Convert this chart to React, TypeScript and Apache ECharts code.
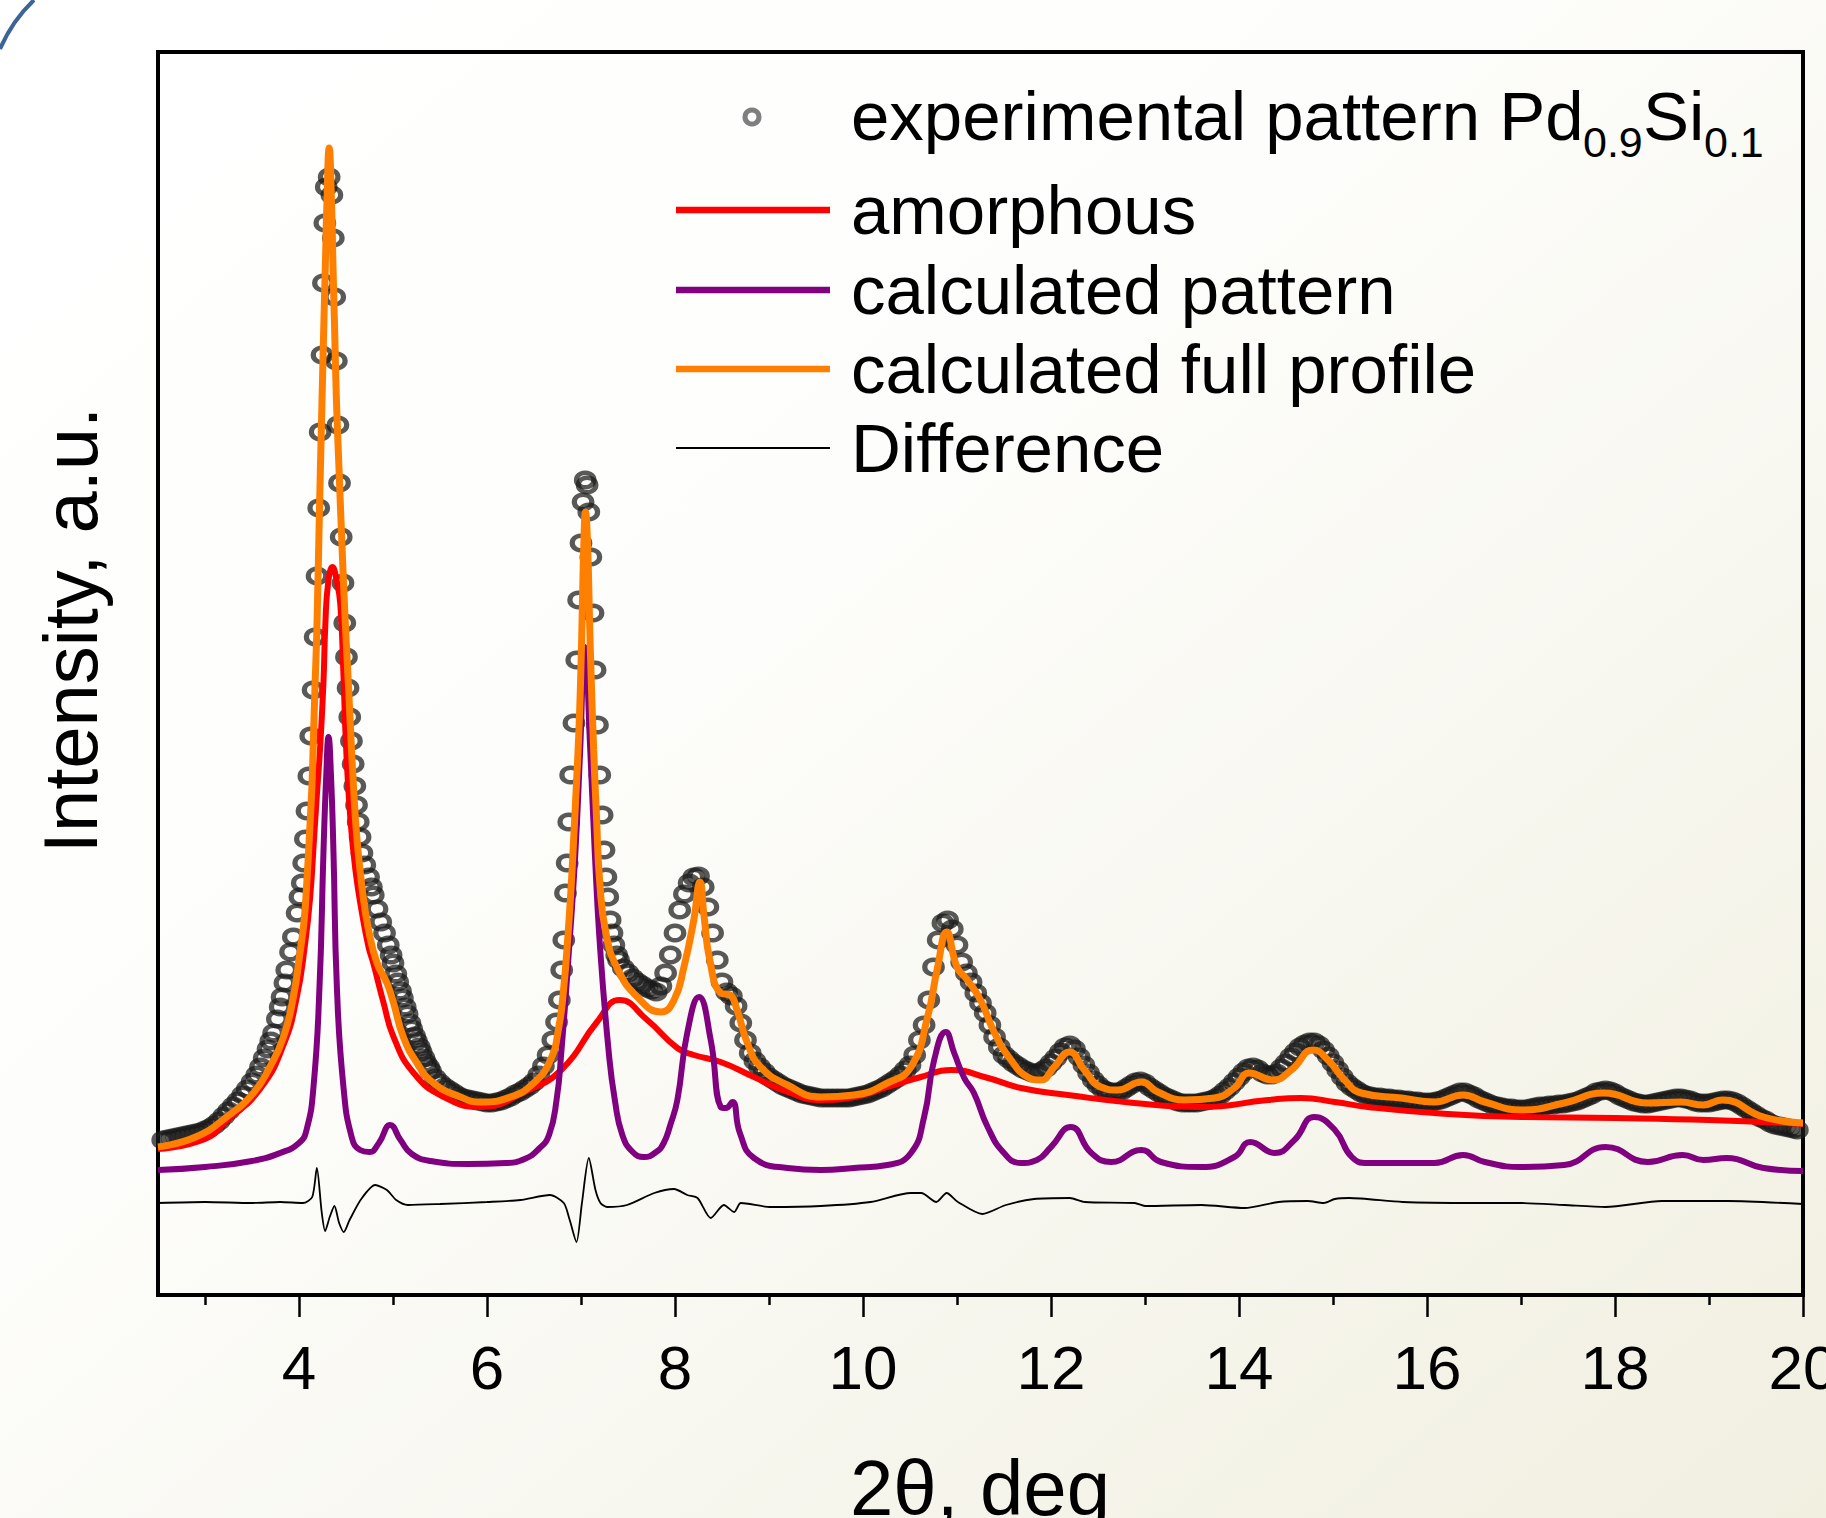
import React, { useEffect, useRef } from "react";
import * as echarts from "echarts";

const FONT = '"Liberation Sans", Arial, Helvetica, sans-serif';

// x axis ticks (2θ, deg)
const xMajorTicks = [4, 6, 8, 10, 12, 14, 16, 18, 20];
const xMinorTicks = [3, 5, 7, 9, 11, 13, 15, 17, 19];

const seriesNames = [
  "experimental pattern Pd0.9Si0.1",
  "amorphous",
  "calculated pattern",
  "calculated full profile",
  "Difference",
];

// experimental pattern (circles), [2θ, intensity a.u.]
const experimental: number[][] = [
  [2.55,155],[2.6,156],[2.65,157],[2.7,158],[2.75,159],[2.8,160],[2.85,161],[2.9,162],[2.95,163],[3.0,165],
  [3.05,167],[3.1,170],[3.15,174],[3.2,179],[3.25,184],[3.3,189],[3.35,194],[3.4,200],[3.45,206],[3.5,213],
  [3.55,220],[3.59,228],[3.63,237],[3.67,246],[3.7,254],[3.73,262],[3.77,276],[3.8,288],[3.82,298],[3.85,312],
  [3.87,325],[3.91,343],[3.94,358],[3.98,382],[4.01,398],[4.035,412],[4.05,432],[4.068,456],[4.085,484],[4.105,519],
  [4.125,559],[4.15,605],[4.172,658],[4.192,719],[4.21,787],[4.225,863],[4.245,940],[4.26,1012],[4.275,1072],[4.29,1108],
  [4.321,1118],[4.35,1100],[4.365,1057],[4.38,998],[4.397,934],[4.414,870],[4.431,812],[4.449,758],[4.468,712],[4.487,672],
  [4.505,638],[4.522,607],[4.54,578],[4.558,554],[4.576,531],[4.594,509],[4.612,490],[4.63,473],[4.65,458],[4.67,442],
  [4.7,430],[4.74,418],[4.77,408],[4.79,400],[4.83,386],[4.87,373],[4.91,362],[4.95,350],[4.98,340],[5.0,332],
  [5.03,321],[5.05,313],[5.08,304],[5.1,297],[5.13,288],[5.15,281],[5.18,272],[5.2,266],[5.23,259],[5.25,254],
  [5.28,248],[5.3,243],[5.33,237],[5.35,232],[5.38,228],[5.4,224],[5.45,217],[5.5,212],[5.55,208],[5.6,205],
  [5.65,202],[5.7,199],[5.75,197],[5.8,196],[5.85,195],[5.9,194],[5.95,193],[6.0,192],[6.05,192],[6.1,193],
  [6.15,194],[6.2,196],[6.25,198],[6.3,201],[6.35,203],[6.4,206],[6.45,209],[6.5,213],[6.55,220],[6.6,229],
  [6.65,240],[6.7,255],[6.74,273],[6.77,295],[6.795,325],[6.817,355],[6.835,402],[6.853,432],[6.87,473],[6.89,520],
  [6.925,572],[6.955,635],[6.975,695],[7.0,752],[7.022,793],[7.045,815],[7.065,810],[7.083,783],[7.105,738],[7.128,682],
  [7.15,625],[7.175,570],[7.2,520],[7.225,480],[7.245,445],[7.265,418],[7.285,398],[7.31,375],[7.33,362],[7.35,350],
  [7.38,340],[7.4,335],[7.45,327],[7.5,322],[7.55,317],[7.6,313],[7.65,310],[7.7,307],[7.75,305],[7.8,303],
  [7.85,309],[7.9,322],[7.95,340],[8.0,362],[8.05,385],[8.1,401],[8.15,412],[8.2,418],[8.25,419],[8.3,408],
  [8.35,388],[8.4,362],[8.45,335],[8.5,313],[8.55,303],[8.6,299],[8.65,289],[8.7,272],[8.75,255],[8.8,242],
  [8.85,234],[8.9,228],[8.95,223],[9.0,218],[9.05,215],[9.1,212],[9.15,209],[9.2,207],[9.25,205],[9.3,203],
  [9.35,201],[9.4,200],[9.45,199],[9.5,198],[9.55,197],[9.6,197],[9.65,197],[9.7,197],[9.75,197],[9.8,197],
  [9.85,197],[9.9,198],[9.95,199],[10.0,200],[10.05,201],[10.1,203],[10.15,205],[10.2,207],[10.25,210],[10.3,213],
  [10.35,216],[10.4,220],[10.45,225],[10.5,230],[10.55,240],[10.6,255],[10.65,270],[10.7,295],[10.75,328],[10.8,355],
  [10.85,372],[10.9,375],[10.95,366],[11.0,350],[11.05,333],[11.1,322],[11.15,313],[11.2,302],[11.25,292],[11.3,282],
  [11.35,270],[11.4,258],[11.45,248],[11.5,240],[11.55,236],[11.6,232],[11.65,229],[11.7,226],[11.75,224],[11.8,222],
  [11.85,222],[11.9,224],[11.95,227],[12.0,232],[12.05,237],[12.1,243],[12.15,248],[12.2,250],[12.25,246],[12.3,238],
  [12.35,230],[12.4,222],[12.45,215],[12.5,210],[12.55,206],[12.6,204],[12.65,203],[12.7,203],[12.75,204],[12.8,207],
  [12.85,210],[12.9,213],[12.95,214],[13.0,212],[13.05,208],[13.1,205],[13.15,202],[13.2,199],[13.25,197],[13.3,195],
  [13.35,193],[13.4,192],[13.45,192],[13.5,192],[13.55,192],[13.6,193],[13.65,194],[13.7,195],[13.75,197],[13.8,200],
  [13.85,204],[13.9,208],[13.95,213],[14.0,218],[14.05,223],[14.1,227],[14.15,228],[14.2,226],[14.25,222],[14.3,220],
  [14.35,220],[14.4,222],[14.45,227],[14.5,232],[14.55,238],[14.6,243],[14.65,248],[14.7,251],[14.75,253],[14.8,253],
  [14.85,250],[14.9,245],[14.95,239],[15.0,232],[15.05,225],[15.1,218],[15.15,212],[15.2,208],[15.25,205],[15.3,202],
  [15.35,200],[15.4,199],[15.45,198],[15.5,198],[15.55,197],[15.6,197],[15.65,196],[15.7,196],[15.75,195],[15.8,195],
  [15.85,194],[15.9,194],[15.95,193],[16.0,193],[16.05,193],[16.1,194],[16.15,195],[16.2,197],[16.25,199],[16.3,201],
  [16.35,203],[16.4,203],[16.45,201],[16.5,199],[16.55,196],[16.6,194],[16.65,192],[16.7,190],[16.75,189],[16.8,188],
  [16.85,187],[16.9,187],[16.95,186],[17.0,186],[17.05,186],[17.1,187],[17.15,188],[17.2,189],[17.25,189],[17.3,190],
  [17.35,190],[17.4,191],[17.45,191],[17.5,192],[17.55,193],[17.6,194],[17.65,196],[17.7,198],[17.75,200],[17.8,203],
  [17.85,204],[17.9,205],[17.95,204],[18.0,202],[18.05,199],[18.1,197],[18.15,195],[18.2,193],[18.25,192],[18.3,191],
  [18.35,191],[18.4,192],[18.45,193],[18.5,194],[18.55,195],[18.6,196],[18.65,197],[18.7,197],[18.75,196],[18.8,195],
  [18.85,193],[18.9,192],[18.95,192],[19.0,192],[19.05,193],[19.1,194],[19.15,195],[19.2,195],[19.25,194],[19.3,192],
  [19.35,189],[19.4,186],[19.45,183],[19.5,180],[19.55,177],[19.6,175],[19.65,172],[19.7,170],[19.75,169],[19.8,168],
  [19.85,167],[19.9,166],[19.94,165],
];

// amorphous contribution (red)
const amorphous: number[][] = [
  [2.5,146],[3.0,156],[3.23,174],[3.586,206],[3.835,250],[3.977,298],[4.066,352],[4.119,398],[4.161,458],[4.19,500],
  [4.225,548],[4.26,612],[4.28,670],[4.31,712],[4.356,728],[4.4,715],[4.44,690],[4.473,620],[4.5,550],[4.545,478],
  [4.6,425],[4.67,382],[4.74,348],[4.79,332],[4.9,292],[5.006,258],[5.22,222],[5.54,198],[5.93,188],[6.4,203],
  [6.8,226],[7.17,273],[7.41,295],[7.705,275],[8.025,247],[8.2,240],[8.486,233],[8.84,218],[9.196,203],[9.55,195],
  [9.905,198],[10.26,208],[10.616,218],[10.935,225],[11.33,217],[11.68,207],[12.18,200],[12.886,192],[13.6,188],[14.31,195],
  [14.66,197],[15.02,193],[15.37,188],[16.08,182],[17.0,178],[18.0,177],[19.0,175],[20.0,171],
];

// calculated crystalline pattern (purple)
const calculatedPattern: number[][] = [
  [2.5,125],[3.0,128],[3.5,134],[3.8,142],[4.0,152],[4.08,165],[4.154,208],[4.218,308],[4.26,442],[4.29,520],
  [4.314,558],[4.34,520],[4.367,442],[4.403,308],[4.473,208],[4.563,157],[4.65,145],[4.75,143],[4.85,152],[4.97,170],
  [5.08,155],[5.2,141],[5.4,134],[5.8,131],[6.2,132],[6.4,136],[6.55,146],[6.66,160],[6.74,195],[6.79,242],
  [6.87,342],[6.94,442],[6.99,542],[7.04,648],[7.1,542],[7.147,442],[7.207,342],[7.296,242],[7.36,195],[7.44,160],
  [7.55,143],[7.67,138],[7.8,143],[7.88,152],[7.95,170],[8.025,195],[8.13,262],[8.255,298],[8.38,255],[8.486,188],
  [8.54,187],[8.61,193],[8.69,162],[8.84,137],[9.196,127],[9.55,125],[9.905,127],[10.26,130],[10.51,142],[10.65,178],
  [10.757,235],[10.88,263],[10.97,242],[11.077,217],[11.18,202],[11.326,168],[11.5,142],[11.68,132],[11.85,135],[12.0,148],
  [12.21,168],[12.43,142],[12.64,133],[12.96,145],[13.17,133],[13.6,128],[13.95,138],[14.12,153],[14.38,142],[14.59,155],
  [14.8,178],[15.02,165],[15.2,138],[15.37,132],[16.08,132],[16.385,140],[16.615,133],[17.0,128],[17.46,130],[17.9,148],
  [18.35,133],[18.72,140],[18.94,135],[19.19,137],[19.58,127],[20.0,124],
];

// calculated full profile (orange)
const fullProfile: number[][] = [
  [2.5,148],[2.9,158],[3.23,178],[3.515,202],[3.69,228],[3.835,258],[3.94,298],[4.01,342],[4.055,375],[4.08,408],
  [4.11,458],[4.137,508],[4.154,558],[4.17,608],[4.19,665],[4.22,795],[4.245,895],[4.262,962],[4.28,1028],[4.298,1095],
  [4.321,1147],[4.345,1095],[4.362,1028],[4.38,962],[4.398,895],[4.425,828],[4.452,762],[4.49,677],[4.527,608],[4.552,558],
  [4.58,508],[4.615,458],[4.67,408],[4.74,365],[4.83,332],[4.935,312],[5.006,292],[5.11,258],[5.255,232],[5.43,212],
  [5.716,198],[5.93,193],[6.25,198],[6.497,212],[6.675,235],[6.764,268],[6.817,308],[6.86,358],[6.895,408],[6.923,458],
  [6.95,508],[6.975,558],[6.995,612],[7.015,690],[7.03,750],[7.048,783],[7.07,750],[7.09,678],[7.11,612],[7.135,545],
  [7.165,478],[7.2,412],[7.265,362],[7.385,327],[7.6,298],[7.85,283],[7.99,295],[8.095,328],[8.2,375],[8.265,413],
  [8.31,378],[8.37,335],[8.486,302],[8.585,300],[8.66,285],[8.77,252],[8.91,228],[9.196,210],[9.55,198],[9.905,200],
  [10.26,212],[10.51,228],[10.687,278],[10.794,328],[10.89,363],[11.0,328],[11.11,315],[11.25,295],[11.4,262],[11.574,235],
  [11.75,218],[11.89,215],[12.035,228],[12.195,243],[12.355,225],[12.53,208],[12.71,205],[12.96,213],[13.137,203],[13.42,195],
  [13.74,197],[13.95,207],[14.11,222],[14.36,215],[14.556,225],[14.79,245],[14.947,235],[15.124,215],[15.3,202],[15.728,197],
  [16.08,193],[16.385,200],[16.615,193],[17.006,185],[17.46,192],[17.88,202],[18.35,192],[18.7,193],[18.94,190],[19.14,195],
  [19.58,178],[20.0,172],
];

// difference curve (black)
const difference: number[][] = [
  [2.5,92],[3.0,93],[3.5,92],[3.8,93],[4.042,92],[4.141,98],[4.19,127],[4.24,84],[4.278,64],[4.327,78],
  [4.377,89],[4.427,72],[4.476,63],[4.538,75],[4.662,96],[4.81,110],[4.935,105],[5.034,95],[5.158,90],[5.5,91],
  [6.0,93],[6.355,95],[6.67,100],[6.817,92],[6.88,75],[6.952,53],[7.01,92],[7.083,137],[7.154,105],[7.207,92],
  [7.278,88],[7.49,90],[7.78,102],[7.99,106],[8.13,100],[8.24,97],[8.38,77],[8.52,90],[8.63,83],[8.7,92],
  [9.02,88],[9.55,89],[10.08,93],[10.51,102],[10.62,102],[10.78,93],[10.89,102],[11.01,93],[11.27,81],[11.52,90],
  [11.82,96],[12.2,97],[12.36,93],[12.89,92],[13.0,89],[13.6,90],[14.06,87],[14.42,93],[14.73,94],[14.9,92],
  [15.02,96],[15.17,97],[15.74,93],[16.5,92],[17.0,92],[17.46,90],[17.9,88],[18.5,94],[19.2,94],[20.0,91],
];

const COLORS = {
  exp: "rgba(25,25,25,0.72)",
  amorphous: "#ff0000",
  pattern: "#800080",
  full: "#ff8000",
  diff: "#000000",
};

export default function App() {
  const ref = useRef<HTMLDivElement>(null);

  useEffect(() => {
    if (!ref.current) return;
    const chart = echarts.init(ref.current, null, { renderer: "svg" });

    const legendRows = [
      { y: 210, color: COLORS.amorphous, width: 6.5, label: seriesNames[1] },
      { y: 290, color: COLORS.pattern, width: 6.5, label: seriesNames[2] },
      { y: 369, color: COLORS.full, width: 6.5, label: seriesNames[3] },
      { y: 448, color: COLORS.diff, width: 1.8, label: seriesNames[4] },
    ];
    const txt = (x: number, y: number, text: string, size: number) => ({
      type: "text",
      x,
      y,
      silent: true,
      style: {
        text,
        fontSize: size,
        fontFamily: FONT,
        fill: "#000",
        align: "left",
        verticalAlign: "middle",
      },
    });

    const graphic: any[] = [
      {
        type: "bezierCurve",
        silent: true,
        shape: { x1: 0, y1: 49, cpx1: 12, cpy1: 21, x2: 34, y2: 0 },
        style: { stroke: "#3c6496", lineWidth: 4, fill: "none" },
      },
      {
        type: "circle",
        silent: true,
        shape: { cx: 752, cy: 117, r: 7 },
        style: { fill: "none", stroke: "#7f7f7f", lineWidth: 5 },
      },
      txt(851, 116, "experimental pattern Pd", 69),
      txt(1583, 142, "0.9", 43),
      txt(1643, 116, "Si", 69),
      txt(1704, 142, "0.1", 43),
      ...legendRows.flatMap((r) => [
        {
          type: "line",
          silent: true,
          shape: { x1: 676, y1: r.y, x2: 830, y2: r.y },
          style: { stroke: r.color, lineWidth: r.width },
        },
        txt(851, r.y, r.label, 69),
      ]),
      {
        type: "text",
        x: 70,
        y: 630,
        rotation: Math.PI / 2,
        silent: true,
        style: {
          text: "Intensity, a.u.",
          fontSize: 76,
          fontFamily: FONT,
          fill: "#000",
          align: "center",
          verticalAlign: "middle",
        },
      },
      {
        type: "text",
        x: 980,
        y: 1488,
        silent: true,
        style: {
          text: "2θ, deg",
          fontSize: 78,
          fontFamily: FONT,
          fill: "#000",
          align: "center",
          verticalAlign: "middle",
        },
      },
    ];

    chart.setOption({
      animation: false,
      backgroundColor: "transparent",
      grid: {
        left: 158,
        right: 23,
        top: 52,
        bottom: 223,
        containLabel: false,
        outerBoundsMode: "none",
        show: true,
        borderColor: "#000",
        borderWidth: 4,
        backgroundColor: "transparent",
      },
      xAxis: [
        {
          type: "value",
          min: 2.5,
          max: 20,
          position: "bottom",
          axisLine: { show: false },
          splitLine: { show: false },
          axisTick: {
            show: true,
            customValues: xMajorTicks,
            length: 22,
            lineStyle: { color: "#000", width: 2.5 },
          },
          axisLabel: {
            show: true,
            customValues: xMajorTicks,
            margin: 41,
            fontSize: 62,
            fontFamily: FONT,
            color: "#000",
            showMinLabel: true,
            showMaxLabel: true,
          },
        },
        {
          type: "value",
          min: 2.5,
          max: 20,
          position: "bottom",
          axisLine: { show: false },
          splitLine: { show: false },
          axisTick: {
            show: true,
            customValues: xMinorTicks,
            length: 10,
            lineStyle: { color: "#000", width: 2.5 },
          },
          axisLabel: { show: false },
        },
      ],
      yAxis: { type: "value", min: 0, max: 1243, show: false },
      series: [
        {
          name: seriesNames[0],
          type: "scatter",
          xAxisIndex: 0,
          data: experimental,
          symbol: "circle",
          symbolSize: [17.5, 14.5],
          silent: true,
          z: 2,
          itemStyle: {
            color: "rgba(0,0,0,0)",
            borderColor: COLORS.exp,
            borderWidth: 4.8,
            opacity: 1,
          },
        },
        {
          name: seriesNames[1],
          type: "line",
          data: amorphous,
          smooth: 0.5,
          symbol: "none",
          silent: true,
          z: 3,
          lineStyle: { color: COLORS.amorphous, width: 6 },
        },
        {
          name: seriesNames[2],
          type: "line",
          data: calculatedPattern,
          smooth: 0.5,
          symbol: "none",
          silent: true,
          z: 4,
          lineStyle: { color: COLORS.pattern, width: 6 },
        },
        {
          name: seriesNames[3],
          type: "line",
          data: fullProfile,
          smooth: 0.5,
          symbol: "none",
          silent: true,
          z: 5,
          lineStyle: { color: COLORS.full, width: 7 },
        },
        {
          name: seriesNames[4],
          type: "line",
          data: difference,
          smooth: 0.25,
          symbol: "none",
          silent: true,
          z: 6,
          lineStyle: { color: COLORS.diff, width: 1.8 },
        },
      ],
      graphic,
    });

    return () => chart.dispose();
  }, []);

  return (
    <div
      ref={ref}
      style={{
        position: "fixed",
        left: 0,
        top: 0,
        width: 1826,
        height: 1518,
        background:
          "linear-gradient(to bottom right, #ffffff 0%, #fdfdfb 40%, #f1efe0 100%)",
      }}
    />
  );
}
